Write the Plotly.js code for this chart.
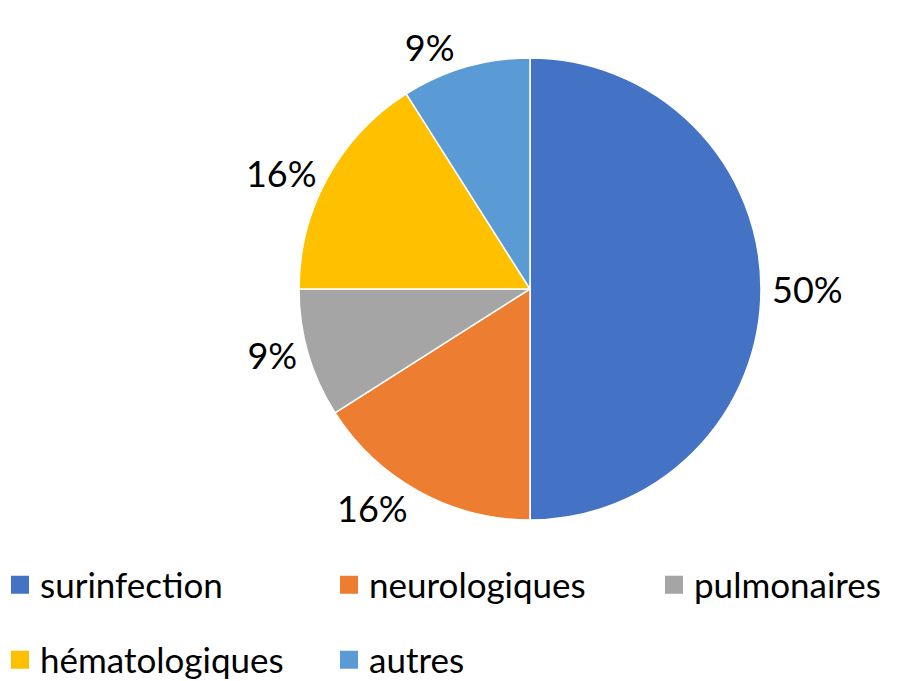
<!DOCTYPE html>
<html>
<head>
<meta charset="utf-8">
<script src="https://cdn.plot.ly/plotly-3.0.1.min.js"></script>
<style>html,body{margin:0;padding:0;background:#fff;}#chart{width:897px;height:681px;}</style>
</head>
<body>
<div id="chart"></div>
<script>
const categories = ["surinfection", "neurologiques", "pulmonaires", "hématologiques", "autres"];
const values = [50, 16, 9, 16, 9];
const colors = ["#4472C4", "#ED7D31", "#A5A5A5", "#FFC000", "#5B9BD5"];

const W = 897, H = 681;
const cx = 530, cy = 289, r = 231;
const FONT = "Lato, 'Open Sans', sans-serif";

const pie = {
  type: "pie",
  labels: categories,
  values: values,
  sort: false,
  direction: "clockwise",
  rotation: 0,
  textinfo: "percent",
  texttemplate: "%{percent:.0%}",
  textposition: "outside",
  outsidetextfont: {family: FONT, size: 36, color: "#000"},
  marker: {colors: colors, line: {color: "#ffffff", width: 1.5}},
  domain: {x: [(cx - r) / W, (cx + r) / W], y: [1 - (cy + r) / H, 1 - (cy - r) / H]},
  showlegend: false,
  hoverinfo: "label+percent"
};

// legend entries: one legend per category, laid out like the reference (3 + 2)
const legendX = [0, 329, 654, 0, 329];
const legendY = [585, 585, 585, 660, 660];
const legendTraces = categories.map((c, i) => ({
  type: "scatter",
  mode: "markers",
  x: [null], y: [null],
  name: c,
  legend: i === 0 ? "legend" : "legend" + (i + 1),
  marker: {symbol: "square", size: 16, color: colors[i], line: {color: colors[i], width: 2}},
  hoverinfo: "skip",
  showlegend: true
}));

const layout = {
  width: W, height: H,
  margin: {l: 0, r: 0, t: 0, b: 0, autoexpand: false},
  paper_bgcolor: "#fff",
  plot_bgcolor: "rgba(0,0,0,0)",
  font: {family: FONT, color: "#000"},
  xaxis: {visible: false, range: [0, 1]},
  yaxis: {visible: false, range: [0, 1]},
  showlegend: true
};
categories.forEach((c, i) => {
  const key = i === 0 ? "legend" : "legend" + (i + 1);
  layout[key] = {
    orientation: "h",
    x: legendX[i] / W, xanchor: "left",
    y: 1 - legendY[i] / H, yanchor: "middle",
    font: {family: FONT, size: 35, color: "#000"},
    bgcolor: "rgba(0,0,0,0)",
    borderwidth: 0,
    itemclick: false, itemdoubleclick: false
  };
});

Plotly.newPlot("chart", [pie].concat(legendTraces), layout, {displayModeBar: false, staticPlot: true});
</script>
</body>
</html>
